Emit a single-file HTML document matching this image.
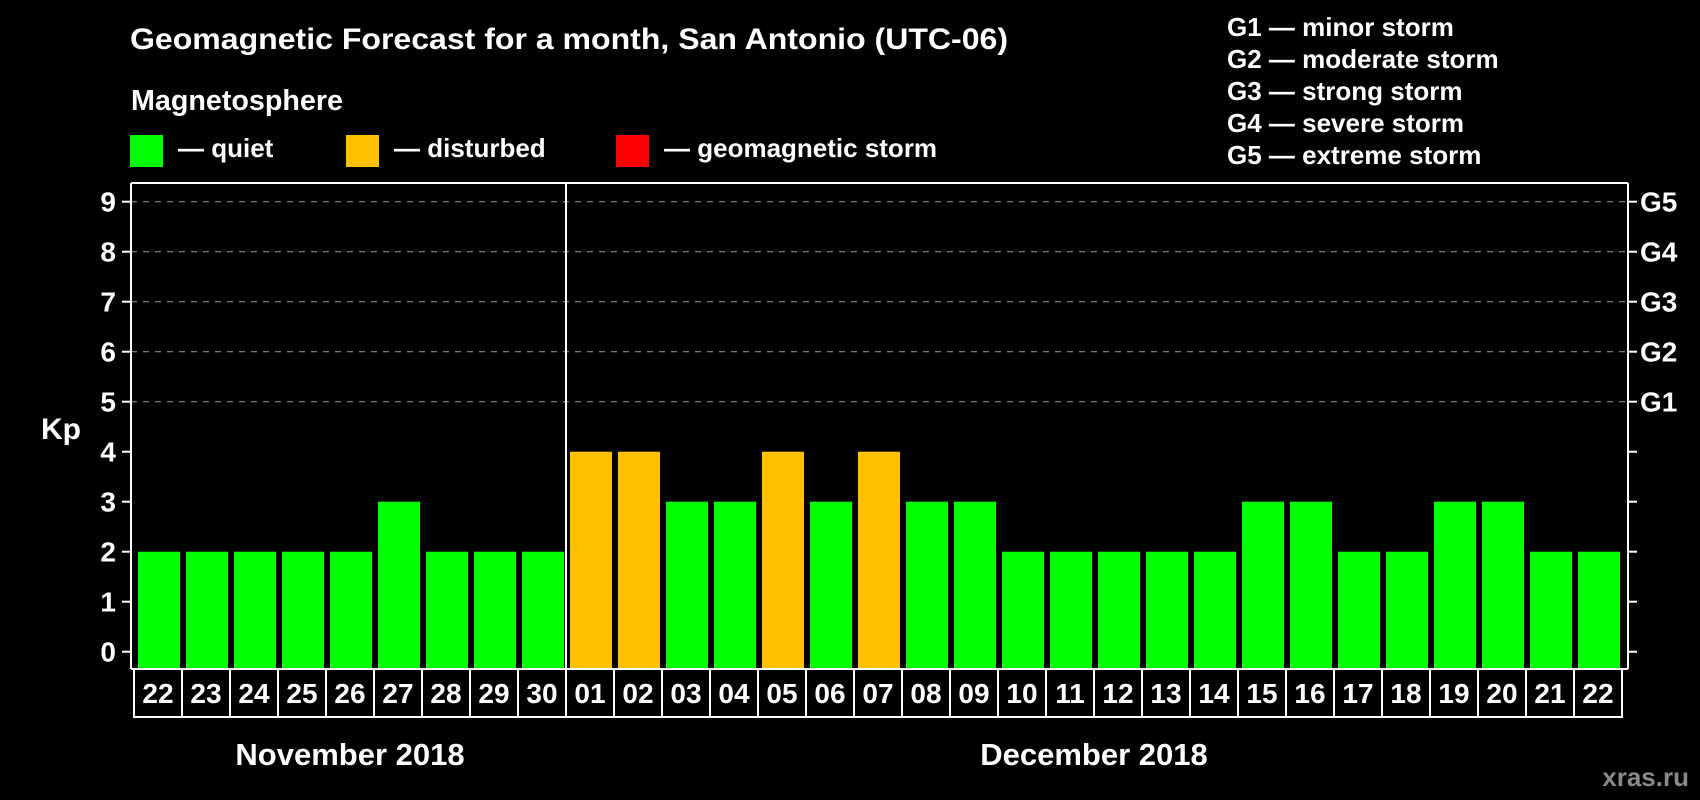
<!DOCTYPE html>
<html><head><meta charset="utf-8"><style>
html,body{margin:0;padding:0;background:#000;}
svg{display:block;font-family:"Liberation Sans",Arial,sans-serif;font-weight:bold;}
</style></head><body>
<svg id="chart" width="1700" height="800" viewBox="0 0 1700 800" xmlns="http://www.w3.org/2000/svg">
<rect width="1700" height="800" fill="#000"/>
<text x="130" y="49" fill="#fff" font-size="30" textLength="878" lengthAdjust="spacingAndGlyphs">Geomagnetic Forecast for a month, San Antonio (UTC-06)</text>
<text x="131" y="110" fill="#fff" font-size="28.7">Magnetosphere</text>
<g><rect x="130" y="135" width="33" height="32" fill="#00ff00"/><text x="178" y="157" fill="#fff" font-size="26">— quiet</text></g>
<g><rect x="346" y="135" width="33" height="32" fill="#ffc000"/><text x="394" y="157" fill="#fff" font-size="26">— disturbed</text></g>
<g><rect x="616" y="135" width="33" height="32" fill="#ff0000"/><text x="664" y="157" fill="#fff" font-size="26">— geomagnetic storm</text></g>
<g fill="#fff" font-size="26">
<text x="1227" y="36">G1 — minor storm</text>
<text x="1227" y="68">G2 — moderate storm</text>
<text x="1227" y="100">G3 — strong storm</text>
<text x="1227" y="132">G4 — severe storm</text>
<text x="1227" y="164">G5 — extreme storm</text>
</g>
<text x="41" y="439" fill="#fff" font-size="30">Kp</text>
<g id="grid"></g><g id="bars"></g><g id="axes"></g><g id="days"></g>
<text x="350" y="765" fill="#fff" font-size="31" text-anchor="middle">November 2018</text>
<text x="1094" y="765" fill="#fff" font-size="31" text-anchor="middle">December 2018</text>
<text x="1689" y="786" fill="#8a8a8a" font-size="26" text-anchor="end">xras.ru</text>
</svg>
<script>
const days = ["22","23","24","25","26","27","28","29","30","01","02","03","04","05","06","07","08","09","10","11","12","13","14","15","16","17","18","19","20","21","22"];
const kpValues = [2,2,2,2,2,3,2,2,2,4,4,3,3,4,3,4,3,3,2,2,2,2,2,3,3,2,2,3,3,2,2];
const yTicks = [0,1,2,3,4,5,6,7,8,9];
const gLabels = ["G1","G2","G3","G4","G5"];
const gLevels = [5,6,7,8,9];
const NS="http://www.w3.org/2000/svg";
const X0=134, SLOT=48, PLEFT=131, PRIGHT=1628, PTOP=183, PBOTTOM=669;
function yScale(v){return 651.7-v*50;}
function xScale(i){return X0+i*SLOT;}
function mk(tag,attrs,parent){const e=document.createElementNS(NS,tag);for(const k in attrs)e.setAttribute(k,attrs[k]);parent.appendChild(e);return e;}
const gridG=document.getElementById('grid'),barsG=document.getElementById('bars'),axesG=document.getElementById('axes'),daysG=document.getElementById('days');
gLevels.forEach((v,i)=>{
  const l=mk('line',{x1:PLEFT,x2:PRIGHT,y1:yScale(v),y2:yScale(v),stroke:'#888','stroke-width':1.2,'stroke-dasharray':'6,6'},gridG);
  
  
  const t=mk('text',{x:1640,y:yScale(v)+10,fill:'#fff','font-size':28},axesG);t.textContent=gLabels[i];
  
  
});
kpValues.forEach((v,i)=>{
  const c=v>=5?'#ff0000':(v>=4?'#ffc000':'#00ff00');
  const r=mk('rect',{x:xScale(i)+4,y:yScale(v),width:42,height:PBOTTOM-1-yScale(v),fill:c},barsG);
  
  
});
yTicks.forEach(v=>{
  mk('line',{x1:122,x2:PLEFT,y1:yScale(v),y2:yScale(v),stroke:'#fff','stroke-width':2},axesG);
  mk('line',{x1:PRIGHT,x2:1637,y1:yScale(v),y2:yScale(v),stroke:'#fff','stroke-width':2},axesG);
  const t=mk('text',{x:116,y:yScale(v)+10,fill:'#fff','font-size':28,'text-anchor':'end'},axesG);t.textContent=v;
  
  
});
mk('line',{x1:PLEFT,x2:PLEFT,y1:PTOP,y2:PBOTTOM,stroke:'#fff','stroke-width':2},axesG);
mk('line',{x1:PRIGHT,x2:PRIGHT,y1:PTOP,y2:PBOTTOM,stroke:'#fff','stroke-width':2},axesG);
mk('line',{x1:PLEFT,x2:PRIGHT,y1:PTOP,y2:PTOP,stroke:'#fff','stroke-width':2},axesG);
mk('line',{x1:PLEFT,x2:PRIGHT,y1:PBOTTOM,y2:PBOTTOM,stroke:'#fff','stroke-width':2},axesG);
days.forEach((d,i)=>{
  const r=mk('rect',{x:xScale(i),y:PBOTTOM,width:SLOT,height:48,fill:'none',stroke:'#fff','stroke-width':2},daysG);
  
  
  const t=mk('text',{x:xScale(i)+SLOT/2,y:703,fill:'#fff','font-size':28,'text-anchor':'middle'},daysG);t.textContent=d;
  
  
});
const div=mk('line',{x1:xScale(9),x2:xScale(9),y1:PTOP,y2:717,stroke:'#fff','stroke-width':2},axesG);


</script>
</body></html>
